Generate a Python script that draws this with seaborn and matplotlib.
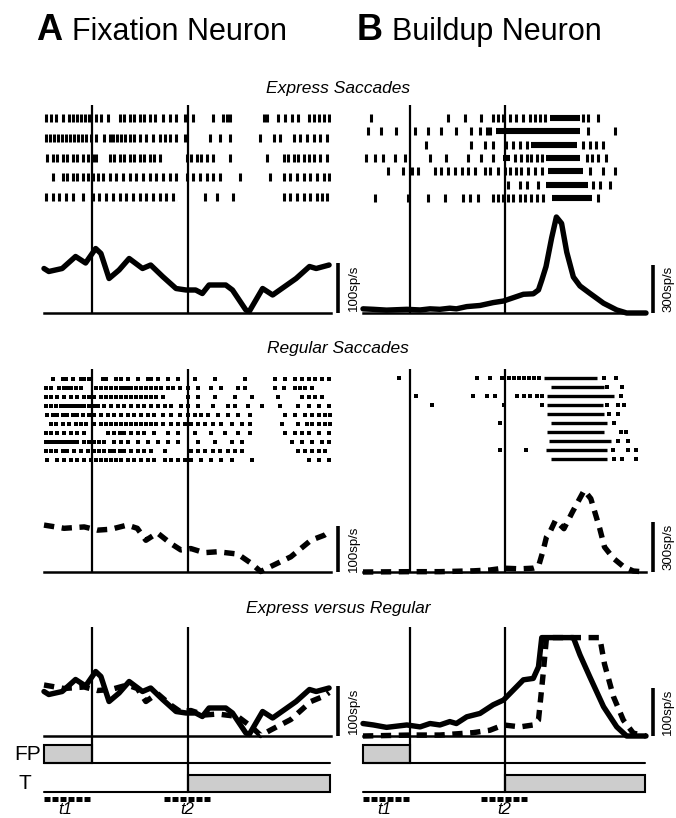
import numpy as np
import matplotlib
matplotlib.use("Agg")
import matplotlib.pyplot as plt
import seaborn as sns
from matplotlib.patches import Rectangle

sns.set_style("white")
plt.rcParams['font.family'] = ['Liberation Sans', 'DejaVu Sans']
plt.rcParams['text.color'] = 'black'

# --- data (time in ms from start of trace, rates in sp/s) ---
T1, T2 = 100, 300
XTICKS = [0, 200, 400, 600]

# fixation neuron, mean firing rate
fix_exp_t = [0, 10, 38, 66, 87, 108, 119, 136, 157, 178, 206, 223, 248, 276, 297, 317, 331, 345,
             380, 394, 422, 429, 457, 478, 527, 555, 569, 596]
fix_exp_r = [89, 83, 89, 113, 100, 129, 119, 69, 86, 109, 89, 96, 73, 49, 46, 46, 39, 56,
             56, 46, 6, 3, 49, 36, 69, 93, 89, 96]
fix_reg_t = [0, 42, 84, 112, 140, 174, 195, 213, 237, 265, 286, 307, 335, 363, 405, 433, 453,
             474, 516, 558, 586, 596]
fix_reg_r = [102, 95, 98, 91, 93, 102, 95, 69, 85, 62, 48, 51, 42, 44, 39, 19, 1,
             12, 33, 69, 80, 87]

# buildup neuron, mean firing rate
bu_exp_t = [0, 22, 50, 93, 121, 142, 163, 184, 198, 220, 248, 276, 298, 319, 340, 361, 372, 379,
            388, 400, 410, 421, 432, 446, 460, 481, 510, 538, 559, 580, 600]
bu_exp_r = [26, 23, 18, 23, 19, 26, 23, 30, 26, 40, 47, 65, 75, 96, 117, 120, 144, 205,
            290, 470, 600, 560, 380, 225, 169, 123, 61, 19, 0, 0, 0]
bu_reg_t = [0, 100, 163, 234, 269, 298, 333, 361, 372, 382, 389, 398, 408, 426, 444, 469, 483,
            502, 512, 531, 552, 573, 600]
bu_reg_r = [0, 2, 2, 7, 12, 23, 19, 23, 33, 130, 210, 250, 310, 260, 360, 490, 440,
            260, 150, 82, 33, 6, 0]

# rasters: spike times per trial
fix_exp_trials = [
    [4, 14, 25, 39, 53, 61, 69, 78, 86, 95, 109, 119, 133, 158, 168, 179, 189, 200, 210, 221, 233,
     249, 263, 277, 294, 312, 354, 375, 382, 389, 459, 467, 490, 504, 518, 532, 553, 564, 574, 585, 595],
    [4, 12, 20, 29, 37, 46, 54, 62, 71, 79, 88, 98, 109, 126, 137, 145, 153, 162, 170, 179, 189, 200,
     214, 228, 242, 252, 263, 277, 294, 347, 368, 389, 452, 480, 494, 522, 536, 550, 564, 578, 592],
    [7, 18, 28, 39, 49, 60, 70, 81, 91, 102, 109, 137, 147, 158, 168, 179, 189, 200, 210, 221, 231,
     242, 298, 308, 319, 329, 340, 354, 389, 466, 501, 511, 522, 532, 543, 553, 564, 578, 592],
    [18, 39, 49, 60, 70, 81, 91, 102, 112, 123, 137, 151, 165, 179, 193, 207, 221, 235, 249, 263,
     277, 298, 312, 326, 340, 354, 368, 410, 473, 501, 515, 529, 543, 557, 571, 585, 595],
    [4, 18, 32, 46, 60, 81, 102, 116, 130, 144, 158, 172, 186, 200, 214, 228, 242, 256, 270, 336,
     361, 396, 501, 515, 529, 543, 557, 571, 581, 592],
]
fix_reg_trials = [
    [18, 39, 46, 60, 77, 84, 95, 123, 130, 151, 161, 175, 196, 217, 224, 238, 259, 280, 315, 357,
     420, 483, 504, 525, 539, 553, 567, 581, 595],
    [4, 14, 32, 42, 49, 56, 67, 77, 109, 119, 130, 140, 151, 161, 168, 175, 182, 193, 203, 214, 224,
     235, 245, 259, 270, 284, 301, 322, 350, 371, 406, 420, 483, 501, 525, 536, 546, 560],
    [4, 14, 28, 42, 56, 70, 84, 95, 105, 119, 130, 140, 151, 161, 172, 182, 193, 203, 214, 224, 235,
     249, 301, 322, 357, 399, 434, 490, 539, 553, 567, 581],
    [4, 14, 25, 35, 42, 49, 56, 63, 70, 77, 84, 95, 105, 112, 126, 140, 154, 168, 182, 196, 210, 224,
     238, 252, 266, 287, 301, 322, 354, 385, 399, 427, 455, 494, 532, 553, 574, 595],
    [7, 18, 28, 39, 49, 60, 70, 81, 95, 105, 119, 133, 147, 161, 175, 189, 203, 217, 231, 249, 266,
     284, 301, 315, 329, 343, 364, 385, 406, 431, 504, 525, 546, 560, 574, 588, 598],
    [14, 25, 39, 53, 67, 77, 88, 105, 119, 130, 140, 151, 161, 172, 182, 193, 203, 214, 224, 235,
     249, 266, 280, 294, 308, 322, 336, 354, 371, 392, 413, 431, 497, 532, 550, 560, 574, 588, 598],
    [4, 14, 28, 42, 56, 70, 84, 133, 147, 158, 168, 182, 196, 210, 231, 259, 280, 315, 350, 378,
     406, 431, 504, 525, 539, 553, 574, 595],
    [4, 11, 18, 25, 32, 39, 46, 53, 60, 70, 84, 95, 105, 116, 126, 147, 161, 175, 196, 217, 238,
     259, 280, 322, 357, 392, 413, 518, 539, 560, 581, 595],
    [4, 14, 25, 39, 49, 63, 77, 91, 105, 116, 126, 137, 147, 158, 168, 182, 196, 210, 224, 252,
     308, 322, 336, 354, 368, 385, 399, 413, 532, 546, 560, 574, 588],
    [7, 28, 42, 56, 70, 84, 98, 109, 119, 130, 140, 151, 161, 175, 189, 203, 217, 231, 252, 266,
     280, 294, 308, 329, 350, 371, 392, 434, 553, 574, 595],
]
bu_exp_spikes = [
    [18, 180, 216, 251, 276, 287, 297, 311, 325, 340, 354, 364, 375, 386, 467, 478, 499],
    [11, 39, 71, 110, 138, 166, 198, 230, 248, 262, 269, 478, 534],
    [133, 230, 258, 276, 304, 318, 333, 347, 467, 481, 495, 509],
    [7, 25, 42, 67, 88, 142, 177, 223, 251, 276, 322, 336, 347, 357, 368, 379, 474, 485, 499, 516],
    [53, 85, 103, 117, 152, 166, 180, 195, 209, 223, 237, 258, 269, 287, 301, 311, 325, 336, 350,
     364, 379, 481, 509, 534],
    [308, 333, 347, 371, 488, 502, 524],
    [25, 96, 138, 173, 212, 226, 244, 276, 287, 297, 308, 318, 333, 343, 357, 368, 382, 499],
]
bu_exp_bursts = [
    [(396, 460)],
    [(283, 460)],
    [(357, 453)],
    [(297, 311), (389, 460)],
    [(393, 467)],
    [(389, 478)],
    [(400, 485)],
]
bu_reg_spikes = [
    [77, 241, 270, 295, 309, 320, 330, 341, 352, 362, 373, 511, 536],
    [518, 550],
    [112, 234, 263, 280, 327, 341, 355, 369, 380, 547],
    [146, 298, 380, 518, 540, 554],
    [522, 540],
    [291, 533],
    [547, 557],
    [540, 561],
    [291, 346, 529, 561, 579],
    [533, 550, 579],
]
bu_reg_bursts = [
    [(383, 497)],
    [(398, 511)],
    [(390, 533)],
    [(390, 508)],
    [(390, 511)],
    [(398, 518)],
    [(390, 511)],
    [(394, 525)],
    [(387, 518)],
    [(398, 518)],
]

# --- figure layout (pixel boxes) ---
W, H = 676, 818
fig = plt.figure(figsize=(W / 100, H / 100), dpi=100)
LEFT = (44, 331)
RIGHT = (363, 646)


def add_ax(xr, y0, y1):
    ax = fig.add_axes([xr[0] / W, 1 - y1 / H, (xr[1] - xr[0]) / W, (y1 - y0) / H])
    ax.set_xlim(0, 600)
    ax.patch.set_alpha(0)
    return ax


def raster_ax(xr, y0, y1, row0, step, spikes, bursts=None, dots=False):
    ax = add_ax(xr, y0, y1)
    ax.set_ylim(y1, y0)
    ax.axis('off')
    for i, sp in enumerate(spikes):
        y = row0 + i * step
        if dots:
            ax.scatter(sp, [y] * len(sp), marker='s', s=6.5, color='k', linewidths=0)
        else:
            ax.vlines(sp, y - 4, y + 4, color='k', lw=2.2)
        if bursts:
            for a, b in bursts[i]:
                ax.hlines(y, a, b, color='k', lw=2.4 if dots else 4.4)
    for t in (T1, T2):
        ax.axvline(t, color='k', lw=1.6)
    return ax


def curve_ax(xr, y0, y1, per_px, curves, scale, bar_label):
    ax = add_ax(xr, y0, y1)
    ax.set_ylim(0, (y1 - y0) * per_px)
    sns.despine(ax=ax, left=True)
    ax.spines['bottom'].set_linewidth(1.8)
    ax.spines['bottom'].set_color('k')
    ax.set_yticks([])
    ax.set_xticks(XTICKS)
    ax.tick_params(axis='x', direction='out', length=4.5, width=1.5, color='k', labelbottom=False)
    for t in (T1, T2):
        ax.axvline(t, color='k', lw=1.6)
    for t, r, ls in curves:
        sns.lineplot(x=t, y=r, ax=ax, color='k', linewidth=3.9, linestyle=ls,
                     clip_on=False, solid_joinstyle='round')
    ax.plot([614, 614], [0, scale], color='k', lw=2.6, clip_on=False, solid_capstyle='butt')
    ax.text(647, scale / 2, bar_label, rotation=90, ha='center', va='center', fontsize=9.5)
    return ax


DASH = (0, (1.9, 1.4))

# row 1: express saccades
raster_ax(LEFT, 105, 205, 118, 19.75, fix_exp_trials)
curve_ax(LEFT, 205, 313, 2.0, [(fix_exp_t, fix_exp_r, '-')], 100, '100sp/s')
raster_ax(RIGHT, 105, 205, 118, 13.3, bu_exp_spikes, bu_exp_bursts)
curve_ax(RIGHT, 205, 313, 6.25, [(bu_exp_t, bu_exp_r, '-')], 300, '300sp/s')

# row 2: regular saccades
raster_ax(LEFT, 369, 470, 379, 9.0, fix_reg_trials, dots=True)
curve_ax(LEFT, 470, 572, 100 / 46, [(fix_reg_t, fix_reg_r, DASH)], 100, '100sp/s')
raster_ax(RIGHT, 369, 470, 378, 9.0, bu_reg_spikes, bu_reg_bursts, dots=True)
curve_ax(RIGHT, 470, 572, 6.0, [(bu_reg_t, bu_reg_r, DASH)], 300, '300sp/s')

# row 3: overlay (buildup neuron saturated at the top of the panel)
curve_ax(LEFT, 627, 736, 2.0, [(fix_exp_t, fix_exp_r, '-'), (fix_reg_t, fix_reg_r, DASH)],
         100, '100sp/s')
CLIP = 205
curve_ax(RIGHT, 627, 736, 100 / 48,
         [(bu_exp_t, np.minimum(bu_exp_r, CLIP), '-'), (bu_reg_t, np.minimum(bu_reg_r, CLIP), DASH)],
         100, '100sp/s')

# FP / T event traces
for xr, labels in ((LEFT, True), (RIGHT, False)):
    ax = add_ax(xr, 736, 818)
    ax.set_ylim(818, 736)
    ax.axis('off')
    ax.add_patch(Rectangle((0, 745), T1, 18, fc='#cdcdcd', ec='k', lw=1.5, clip_on=False))
    ax.plot([0, 597], [763, 763], color='k', lw=1.5, clip_on=False)
    ax.add_patch(Rectangle((T2, 775), 597 - T2, 17, fc='#cdcdcd', ec='k', lw=1.5, clip_on=False))
    ax.plot([0, T2], [792, 792], color='k', lw=1.5, clip_on=False)
    ax.plot([T1, T1], [736, 763], color='k', lw=1.6)
    ax.plot([T2, T2], [736, 792], color='k', lw=1.6)
    for a, b in ((0, T1), (T2 - 50, T2 + 50)):
        ax.plot([a, b], [799, 799], color='k', lw=3.6, linestyle=(0, (1.2, 0.4)),
                dash_capstyle='butt', clip_on=False)
    ax.text(45, 810, 't1', style='italic', fontsize=12, ha='center', va='center')
    ax.text(T2, 810, 't2', style='italic', fontsize=12, ha='center', va='center')
    if labels:
        ax.text(-7, 755, 'FP', fontsize=15, ha='right', va='center', clip_on=False)
        ax.text(-40, 784, 'T', fontsize=15, ha='center', va='center', clip_on=False)

# titles
fig.text(36 / W, 1 - 31 / H, 'A', fontsize=26, weight='bold', va='center')
fig.text(72 / W, 1 - 32 / H, 'Fixation Neuron', fontsize=22, va='center')
fig.text(357 / W, 1 - 31 / H, 'B', fontsize=26, weight='bold', va='center')
fig.text(392 / W, 1 - 32 / H, 'Buildup Neuron', fontsize=22, va='center')
for y, s in ((88, 'Express Saccades'), (349, 'Regular Saccades'), (609, 'Express versus Regular')):
    fig.text(338 / W, 1 - y / H, s, fontsize=12.5, style='italic', ha='center', va='center')

fig.savefig('out.png', dpi=100)
